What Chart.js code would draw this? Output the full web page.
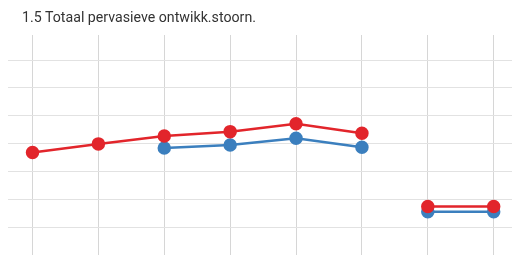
<!DOCTYPE html>
<html lang="nl">
<head>
    <meta charset="UTF-8">
    <script src="https://cdn.jsdelivr.net/npm/chart.js@4/dist/chart.umd.min.js"></script>
    <title>1.5 Totaal pervasieve ontwikk.stoorn.</title>
    <style type="text/css">
        body { margin: 0; background: #fff; }
        #wrap { position: relative; width: 512px; height: 255px; }
        #title {
            position: absolute; left: 22px; top: 9px;
            font-family: Roboto, sans-serif; font-size: 14.2px; color: #333;
        }
    </style>
</head>
<body>
    <div id="wrap">
        <canvas id="chartCanvas" width="512" height="255"></canvas>
        <div id="title">1.5 Totaal pervasieve ontwikk.stoorn.</div>
    </div>
<script>
// categories (labels not shown on the chart)
var categories = ['1', '2', '3', '4', '5', '6', '7', '8'];
var redValues  = [0.368, 0.399, 0.427, 0.443, 0.471, 0.437, 0.174, 0.174];
var blueValues = [null, null, 0.384, 0.395, 0.419, 0.387, 0.155, 0.155];
// gap between category 6 and 7
var gapAfter = 5;

function toPoints(values) {
    var pts = [];
    for (var i = 0; i < values.length; i++) {
        pts.push({ x: i, y: values[i] });
        if (i == gapAfter) pts.push({ x: i + 0.5, y: null });
    }
    return pts;
}

var ctx = document.getElementById('chartCanvas');
var chart = new Chart(ctx, {
    type: 'line',
    data: {
        datasets: [
            {
                label: 'rood',
                data: toPoints(redValues),
                borderColor: '#e2252b',
                backgroundColor: '#e2252b',
                borderWidth: 2.5,
                pointRadius: 5.5,
                pointHoverRadius: 5.5,
                spanGaps: false
            },
            {
                label: 'blauw',
                data: toPoints(blueValues),
                borderColor: '#3b7fbe',
                backgroundColor: '#3b7fbe',
                borderWidth: 2.5,
                pointRadius: 5.5,
                pointHoverRadius: 5.5,
                spanGaps: false
            }
        ]
    },
    options: {
        responsive: false,
        animation: false,
        layout: { autoPadding: false, padding: { left: 8, top: 35, right: 0, bottom: 0 } },
        plugins: { legend: { display: false }, tooltip: { enabled: false } },
        scales: {
            x: {
                type: 'linear',
                min: -0.372,
                max: 7.278,
                ticks: { display: false, stepSize: 1, includeBounds: false },
                grid: { color: '#d6d6d6', drawTicks: false },
                border: { display: false },
                afterFit: function(axis) { axis.height = 0; }
            },
            y: {
                min: 0,
                max: 0.79,
                ticks: { display: false, stepSize: 0.1, includeBounds: false },
                grid: { color: '#e2e2e2', drawTicks: false },
                border: { display: false },
                afterFit: function(axis) { axis.width = 0; }
            }
        }
    }
});
</script>
</body>
</html>
